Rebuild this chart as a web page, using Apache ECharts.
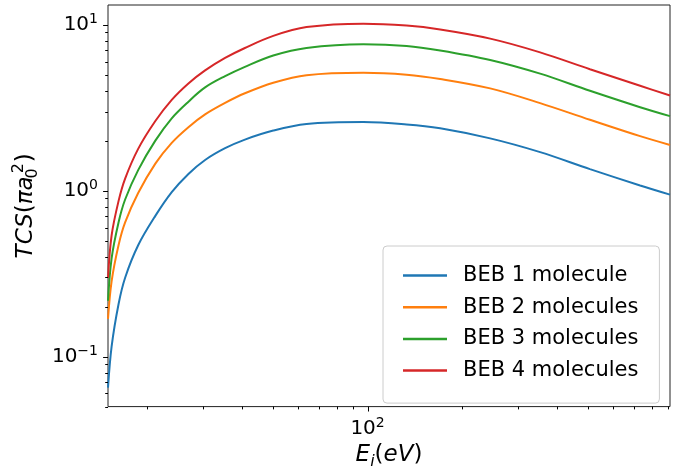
<!DOCTYPE html>
<html>
<head>
<meta charset="utf-8">
<script src="https://cdn.jsdelivr.net/npm/echarts@6/dist/echarts.min.js"></script>
<style>
  html, body { margin: 0; padding: 0; background: #fff; }
  #chart { width: 681px; height: 475px; }
</style>
</head>
<body>
<div id="chart"></div>
<script>
// energies (eV)
const energy = [15, 15.4, 16.2, 17, 18.7, 21.2, 23.9, 27, 30.5, 35.3, 40.8, 50.2, 64, 97, 133, 170, 245, 353, 508, 733, 912];
const beb1 = [0.065, 0.115, 0.207, 0.299, 0.469, 0.705, 0.980, 1.262, 1.531, 1.803, 2.032, 2.303, 2.523, 2.593, 2.509, 2.376, 2.066, 1.707, 1.349, 1.075, 0.947];
const beb2 = [0.169, 0.284, 0.469, 0.644, 0.968, 1.456, 1.943, 2.415, 2.883, 3.381, 3.863, 4.474, 4.969, 5.140, 5.003, 4.712, 4.135, 3.372, 2.675, 2.131, 1.886];
const beb3 = [0.217, 0.391, 0.644, 0.885, 1.331, 2.002, 2.731, 3.440, 4.191, 4.901, 5.578, 6.523, 7.244, 7.627, 7.451, 7.000, 6.135, 5.072, 3.998, 3.184, 2.813];
const beb4 = [0.298, 0.537, 0.865, 1.182, 1.786, 2.628, 3.526, 4.426, 5.305, 6.305, 7.244, 8.564, 9.678, 10.15, 9.879, 9.355, 8.246, 6.813, 5.392, 4.290, 3.743];
const names = ['BEB 1 molecule', 'BEB 2 molecules', 'BEB 3 molecules', 'BEB 4 molecules'];
const colors = ['#1f77b4', '#ff7f0e', '#2ca02c', '#d62728'];

const xMajorTicks = [100];
const xMinorTicks = [20, 30, 40, 50, 60, 70, 80, 90, 200, 300, 400, 500, 600, 700, 800, 900];
const yMajorTicks = [0.1, 1, 10];
const yMinorTicks = [0.05, 0.06, 0.07, 0.08, 0.09, 0.2, 0.3, 0.4, 0.5, 0.6, 0.7, 0.8, 0.9, 2, 3, 4, 5, 6, 7, 8, 9];

const X_MIN = 15, X_MAX = 912;
const Y_MIN = 0.05, Y_MAX = 13.15;
const FONT = 'DejaVu Sans';

const chart = echarts.init(document.getElementById('chart'));

// decade labels as 10^n
function powLabel(v) {
  const e = Math.log10(v);
  const n = Math.round(e);
  if (Math.abs(e - n) > 1e-6) return '';
  return '{b|10}{s|' + String(n).replace('-', '\u2212') + '}';
}
const powRich = {
  b: { fontSize: 20, fontFamily: FONT, color: '#000', lineHeight: 24 },
  s: { fontSize: 14, fontFamily: FONT, color: '#000', verticalAlign: 'top', lineHeight: 24 }
};

// ticks drawn outside the frame, through the axes
function xTicks(list, len) {
  return {
    type: 'custom', silent: true, z: 10,
    data: list.map(v => [v, Y_MIN]),
    renderItem: (params, api) => {
      const p = api.coord([api.value(0), Y_MIN]);
      const x = Math.round(p[0]) + 0.5;
      return { type: 'line', shape: { x1: x, y1: p[1], x2: x, y2: p[1] + len },
        style: { stroke: '#000', lineWidth: 1 } };
    }
  };
}
function yTicks(list, len) {
  return {
    type: 'custom', silent: true, z: 10,
    data: list.map(v => [X_MIN, v]),
    renderItem: (params, api) => {
      const p = api.coord([X_MIN, api.value(1)]);
      const y = Math.round(p[1]) + 0.5;
      return { type: 'line', shape: { x1: p[0], y1: y, x2: p[0] - len, y2: y },
        style: { stroke: '#000', lineWidth: 1 } };
    }
  };
}

const curves = [beb1, beb2, beb3, beb4].map((vals, i) => ({
  name: names[i],
  type: 'line',
  data: energy.map((e, j) => [e, vals[j]]),
  showSymbol: false,
  symbol: 'none',
  smooth: 0.35,
  lineStyle: { width: 2, color: colors[i] },
  itemStyle: { color: colors[i] },
  clip: true,
  z: 3
}));

const option = {
  animation: false,
  backgroundColor: '#fff',
  grid: {
    left: 108, right: 11, top: 5, bottom: 61,
    show: true, borderColor: '#222', borderWidth: 1, backgroundColor: 'transparent'
  },
  legend: {
    data: names,
    orient: 'vertical',
    left: 383, top: 246,
    padding: [19, 21, 22, 20],
    itemGap: 10.7,
    itemWidth: 44, itemHeight: 2.5,
    icon: 'rect',
    backgroundColor: 'rgba(255,255,255,0.8)',
    borderColor: '#cccccc', borderWidth: 1, borderRadius: 4,
    textStyle: { fontSize: 21, fontFamily: FONT, color: '#000', lineHeight: 21, padding: [0, 0, 0, 11] }
  },
  xAxis: {
    type: 'log', logBase: 10, min: X_MIN, max: X_MAX,
    name: '{i|E}{sub|i}{n|(}{i|eV}{n|)}',
    nameLocation: 'middle', nameGap: 32,
    nameTextStyle: {
      rich: {
        i: { fontSize: 23, fontFamily: FONT, fontStyle: 'italic', color: '#000', lineHeight: 30 },
        n: { fontSize: 23, fontFamily: FONT, color: '#000', lineHeight: 30 },
        sub: { fontSize: 16, fontFamily: FONT, fontStyle: 'italic', color: '#000', verticalAlign: 'bottom', lineHeight: 30 }
      }
    },
    axisLine: { show: false },
    axisTick: { show: false },
    splitLine: { show: false },
    minorTick: { show: false },
    axisLabel: { interval: 0, margin: 10, formatter: powLabel, rich: powRich }
  },
  yAxis: {
    type: 'log', logBase: 10, min: Y_MIN, max: Y_MAX,
    name: '{i|TCS}{n|(}{i|\u03c0a}{sp|\u200a}{sub|0}{sup|2}{n|)}',
    nameLocation: 'middle', nameGap: 60, nameRotate: 90,
    nameTextStyle: {
      rich: {
        i: { fontSize: 23, fontFamily: FONT, fontStyle: 'italic', color: '#000', lineHeight: 30 },
        n: { fontSize: 23, fontFamily: FONT, color: '#000', lineHeight: 30 },
        sp: { fontSize: 10, width: 3, lineHeight: 30 },
        sub: { fontSize: 16, fontFamily: FONT, color: '#000', verticalAlign: 'bottom', lineHeight: 30, width: 0 },
        sup: { fontSize: 16, fontFamily: FONT, color: '#000', verticalAlign: 'top', lineHeight: 30, padding: [0, 1, 0, 0] }
      }
    },
    axisLine: { show: false },
    axisTick: { show: false },
    splitLine: { show: false },
    axisLabel: { interval: 0, margin: 10, formatter: powLabel, rich: powRich }
  },
  series: curves.concat([
    xTicks(xMajorTicks, 4.9), xTicks(xMinorTicks, 2.8),
    yTicks(yMajorTicks, 4.9), yTicks(yMinorTicks, 2.8)
  ])
};
chart.setOption(option);
</script>
</body>
</html>
